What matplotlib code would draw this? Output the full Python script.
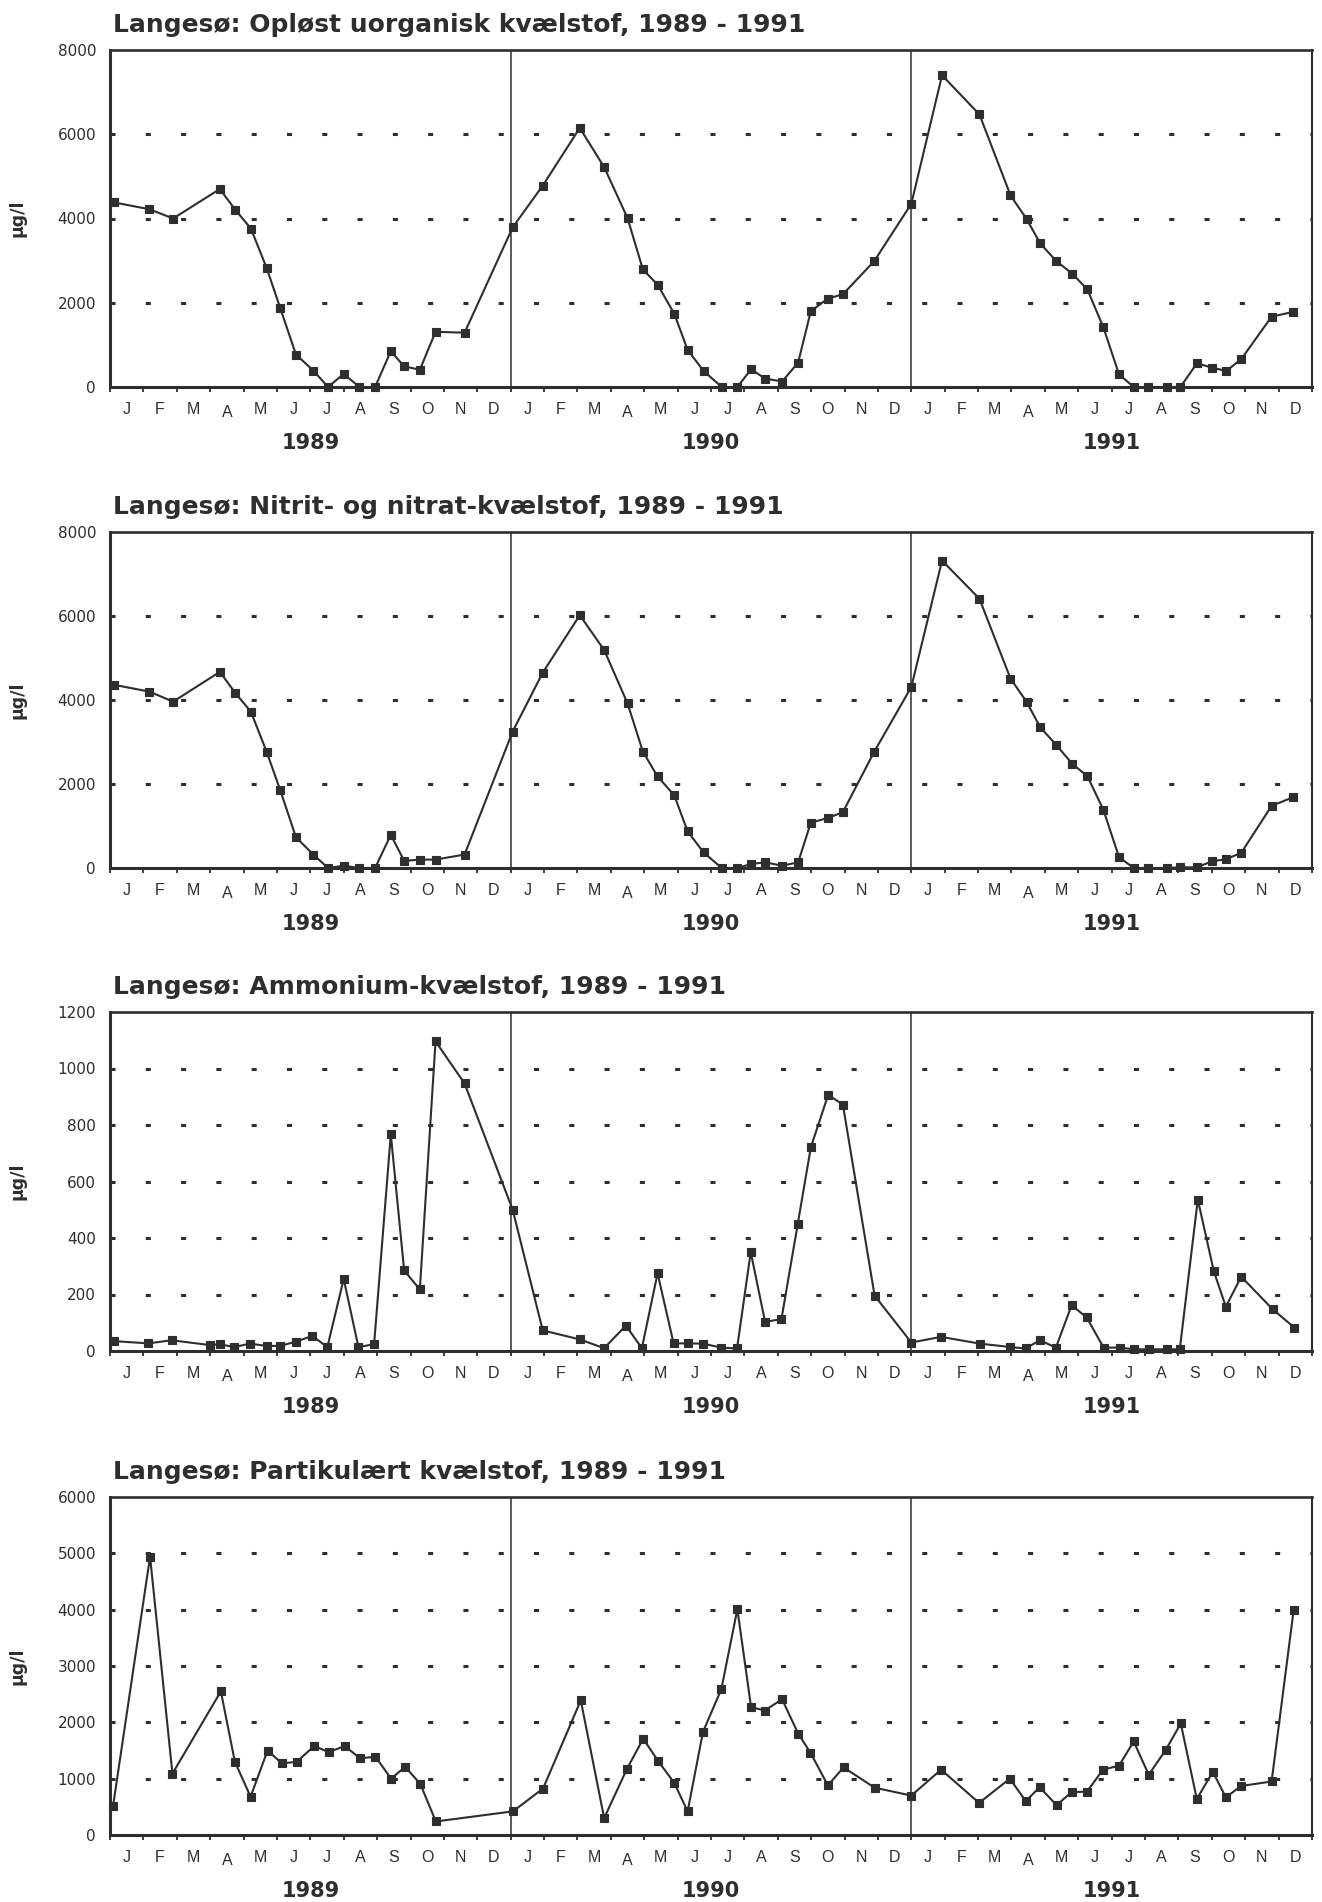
import numpy as np
import matplotlib
matplotlib.use("Agg")
import matplotlib.pyplot as plt

W, H = 1322, 1902
INK = '#2e2e2e'
plt.rcParams['font.family'] = ['Liberation Sans', 'DejaVu Sans']

MONTHS = list('JFMAMJJASOND')
YEARS = ['1989', '1990', '1991']

titles = [
    'Langesø: Opløst uorganisk kvælstof, 1989 - 1991',
    'Langesø: Nitrit- og nitrat-kvælstof, 1989 - 1991',
    'Langesø: Ammonium-kvælstof, 1989 - 1991',
    'Langesø: Partikulært kvælstof, 1989 - 1991',
]

# sampling dates in months since 1 Jan 1989
dates_din = [0.13, 1.18, 1.89, 3.29, 3.75, 4.22, 4.69, 5.10, 5.57, 6.09,
             6.53, 7.00, 7.47, 7.94, 8.41, 8.81, 9.28, 9.75, 10.62, 12.06,
             12.96, 14.07, 14.80, 15.50, 15.96, 16.40, 16.90, 17.30, 17.78, 18.32,
             18.79, 19.20, 19.62, 20.13, 20.61, 20.99, 21.50, 21.95, 22.89, 24.00,
             24.92, 26.04, 26.97, 27.45, 27.86, 28.34, 28.82, 29.27, 29.75, 30.22,
             30.66, 31.10, 31.65, 32.06, 32.55, 33.01, 33.43, 33.88, 34.79, 35.42]

din = [4380, 4220, 4000, 4700, 4210, 3760, 2830, 1870, 770, 390,
       0, 310, 0, 0, 850, 490, 410, 1310, 1290, 3790,
       4780, 6150, 5220, 4010, 2790, 2430, 1740, 880, 380, 0,
       0, 420, 200, 130, 580, 1800, 2100, 2200, 2990, 4350,
       7400, 6470, 4550, 3990, 3410, 2990, 2690, 2320, 1420, 300,
       0, 0, 0, 0, 560, 460, 380, 660, 1670, 1780]

nox = [4360, 4200, 3960, 4670, 4170, 3720, 2770, 1850, 730, 320,
       0, 55, 0, 0, 790, 170, 200, 200, 320, 3250,
       4650, 6020, 5190, 3920, 2770, 2180, 1730, 870, 370, 0,
       0, 95, 135, 55, 135, 1080, 1190, 1330, 2770, 4310,
       7320, 6410, 4510, 3960, 3350, 2930, 2480, 2190, 1390, 260,
       0, 0, 0, 16, 16, 160, 210, 360, 1480, 1680]

dates_nh4 = [0.11, 1.15, 1.85, 2.99, 3.28, 3.72, 4.19, 4.69, 5.10, 5.56,
             6.06, 6.51, 7.00, 7.44, 7.91, 8.41, 8.81, 9.28, 9.75, 10.62,
             12.06, 12.96, 14.07, 14.80, 15.45, 15.93, 16.40, 16.88, 17.30, 17.76,
             18.31, 18.78, 19.19, 19.62, 20.11, 20.60, 20.99, 21.51, 21.95, 22.90,
             24.00, 24.89, 26.06, 26.97, 27.42, 27.85, 28.33, 28.80, 29.25, 29.76,
             30.24, 30.67, 31.11, 31.66, 32.04, 32.58, 33.06, 33.42, 33.88, 34.82,
             35.47]

nh4 = [35, 27, 38, 21, 24, 14, 26, 18, 18, 33,
       53, 14, 255, 14, 24, 767, 285, 218, 1096, 947,
       500, 73, 41, 10, 90, 10, 275, 27, 27, 26,
       12, 9, 350, 103, 113, 451, 721, 907, 872, 196,
       30, 50, 26, 14, 9, 38, 12, 162, 119, 12,
       12, 6, 6, 6, 6, 536, 282, 157, 263, 148,
       83]

dates_pn = [0.09, 1.20, 1.87, 3.32, 3.74, 4.21, 4.72, 5.15, 5.59, 6.12,
            6.55, 7.03, 7.49, 7.95, 8.42, 8.84, 9.29, 9.76, 12.07,
            12.97, 14.10, 14.80, 15.48, 15.97, 16.42, 16.90, 17.30, 17.76, 18.31,
            18.79, 19.20, 19.61, 20.13, 20.61, 20.98, 21.50, 21.97, 22.90, 24.00,
            24.89, 26.03, 26.95, 27.43, 27.84, 28.35, 28.80, 29.26, 29.74, 30.22,
            30.66, 31.11, 31.62, 32.07, 32.55, 33.03, 33.42, 33.88, 34.79, 35.45]

pn = [510, 4940, 1090, 2550, 1300, 680, 1500, 1270, 1300, 1580,
      1470, 1580, 1360, 1390, 1000, 1210, 910, 240, 420,
      825, 2390, 300, 1170, 1710, 1310, 925, 420, 1830, 2590,
      4010, 2270, 2210, 2410, 1800, 1460, 880, 1200, 840, 700,
      1160, 570, 1000, 600, 850, 530, 760, 770, 1160, 1230,
      1660, 1070, 1510, 1980, 640, 1120, 670, 870, 950, 3990]

series = [(dates_din, din), (dates_din, nox), (dates_nh4, nh4), (dates_pn, pn)]
ymaxes = [8000, 8000, 1200, 6000]
ysteps = [2000, 2000, 200, 1000]

# axes boxes in pixels: left, top, right, bottom
boxes = [(110, 50, 1312, 387), (110, 532, 1312, 868),
         (110, 1012, 1312, 1351), (110, 1497, 1312, 1835)]

BOLD = ['DejaVu Sans']

fig = plt.figure(figsize=(W / 100, H / 100), dpi=100)

for (x, y), title, ymax, ystep, (l, t, r, b) in zip(series, titles, ymaxes, ysteps, boxes):
    ax = fig.add_axes([l / W, 1 - b / H, (r - l) / W, (b - t) / H])
    ax.set_xlim(0, 36)
    ax.set_ylim(0, ymax)

    yt = np.arange(0, ymax + 1, ystep)
    for v in yt[1:-1]:
        ax.axhline(v, color=INK, lw=2.2, linestyle=(0, (1.65, 9.9)), zorder=1)
    for yr in (12, 24):
        ax.axvline(yr, color=INK, lw=1.1, zorder=2)

    ax.plot(x, y, color=INK, lw=1.5, marker='s', ms=5.6, mfc=INK, mec=INK,
            mew=0.8, clip_on=False, zorder=3)

    ax.set_yticks(yt)
    ax.set_yticklabels([str(int(v)) for v in yt], fontsize=11,
                       family=['DejaVu Sans'], color=INK)
    ax.tick_params(axis='y', length=0, pad=10)
    ax.set_xticks(np.arange(0, 37))
    ax.set_xticklabels([])
    ax.tick_params(axis='x', direction='out', length=3.5, width=1.3, color=INK)

    for side, w in (('left', 2.2), ('bottom', 2.2), ('top', 1.9), ('right', 1.5)):
        ax.spines[side].set_linewidth(w)
        ax.spines[side].set_color(INK)

    for k in range(36):
        m = MONTHS[k % 12]
        dy = -18.5 if (k % 12) == 3 else -16
        ax.annotate(m, (k + 0.5, 0), xycoords=('data', 'axes fraction'),
                    xytext=(0, dy), textcoords='offset points',
                    ha='center', va='center', fontsize=11.5, color=INK)
    for i, yr in enumerate(YEARS):
        ax.annotate(yr, (12 * i + 6, 0), xycoords=('data', 'axes fraction'),
                    xytext=(0, -40), textcoords='offset points',
                    ha='center', va='center', fontsize=15, fontweight='bold',
                    family=BOLD, color=INK)

    fig.text(113 / W, 1 - (t - 18) / H, title, ha='left', va='baseline',
             fontsize=18, fontweight='bold', family=BOLD, color=INK)
    fig.text(18 / W, 1 - (t + b) / 2 / H, 'µg/l', ha='center', va='center',
             rotation=90, fontsize=12.5, fontweight='bold', family=BOLD,
             color=INK)

fig.savefig('out.png', dpi=100, facecolor='white')
